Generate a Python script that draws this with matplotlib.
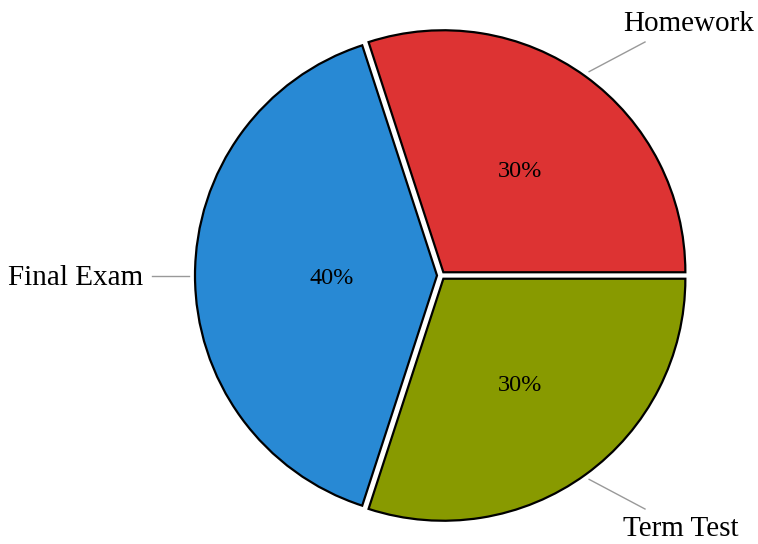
import matplotlib
matplotlib.use('Agg')
import matplotlib.pyplot as plt
import numpy as np

# 数据
labels = ['Homework', 'Final Exam', 'Term Test']
shares = [30, 40, 30]
colors = ['#DD3333', '#2889D4', '#889A00']

plt.rcParams['font.family'] = ['Liberation Serif', 'DejaVu Serif']

W, H = 758, 544
fig = plt.figure(figsize=(W / 100, H / 100), dpi=100)
ax = fig.add_axes([0, 0, 1, 1])
ax.axis('off')

cx, cy = 441, H - 275.5
R = 242
gap = 4  # 扇区分离距离（像素）

wedges, _ = ax.pie(shares, colors=colors, startangle=0, counterclock=True,
                   center=(cx, cy), radius=R, explode=[gap] * 3,
                   wedgeprops=dict(edgecolor='black', linewidth=1.6))
ax.set_xlim(0, W)
ax.set_ylim(0, H)

# 百分比位置（相对半径）
pct_r = [0.53, 0.44, 0.53]
# 标签引线与文字的偏移
line_end = [(204, 233.5), (-289, 0), (204, -233.5)]
text_pos = [(248, 251.5), (-365, -2.5), (240, -254)]

for w, s, pr, le in zip(wedges, shares, pct_r, line_end):
    mid = np.deg2rad((w.theta1 + w.theta2) / 2)
    ox, oy = w.center
    ax.text(ox + pr * R * np.cos(mid) + 1, oy + pr * R * np.sin(mid) - 3, f'{s}%',
            ha='center', va='center', fontsize=17.5)
    r0 = R + 10
    ax.plot([cx + r0 * np.cos(mid), cx + le[0]],
            [cy + r0 * np.sin(mid), cy + le[1]], color='#999999', lw=1)
for lab, tp in zip(labels, text_pos):
    ax.text(cx + tp[0], cy + tp[1], lab, ha='center', va='center', fontsize=21)

fig.savefig('out.png', dpi=100)
